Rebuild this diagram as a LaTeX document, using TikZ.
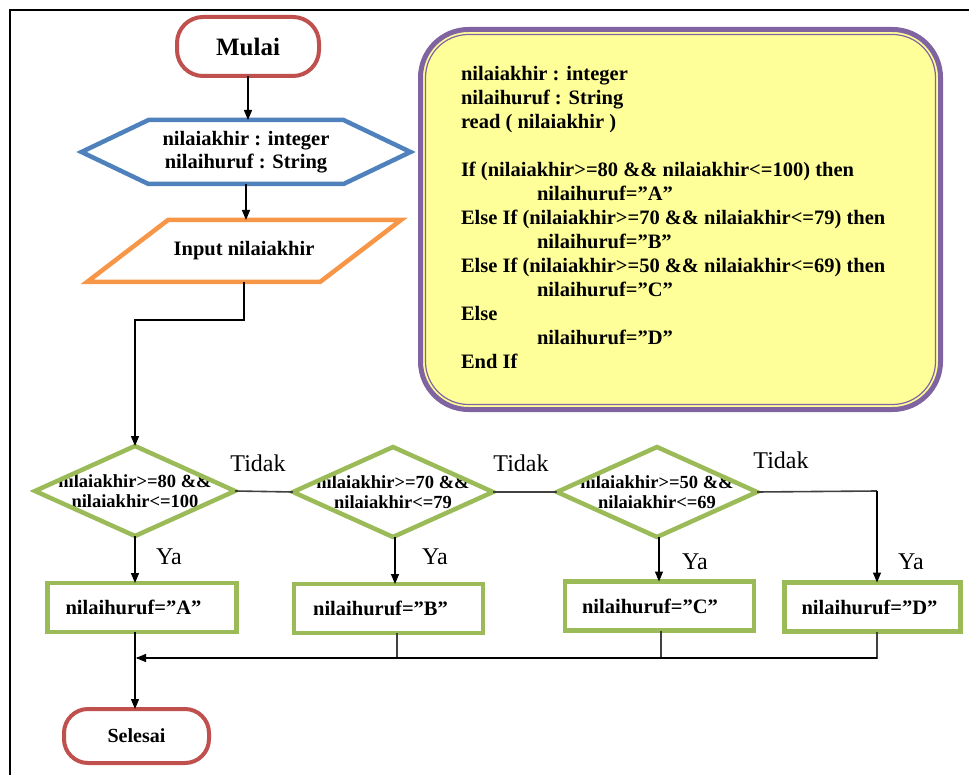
\documentclass[tikz,border=0pt]{standalone}
\usepackage{fontspec}
\setmainfont{Liberation Serif}
\usetikzlibrary{arrows.meta,calc}

\definecolor{termred}{HTML}{C0504D}
\definecolor{declblue}{HTML}{4F81BD}
\definecolor{ioorange}{HTML}{F79646}
\definecolor{decgreen}{HTML}{9BBB59}
\definecolor{notepurple}{HTML}{8064A2}
\definecolor{noteyellow}{HTML}{FFFF99}

\newcommand{\flowfont}{\fontsize{20.5}{23}\selectfont\bfseries}
\newcommand{\condfont}{\fontsize{18.5}{20.5}\selectfont\bfseries}
\newcommand{\branchfont}{\fontsize{24}{26}\selectfont}

\begin{document}
\begin{tikzpicture}[x=1pt,y=-1pt,
  every node/.style={inner sep=0pt, outer sep=0pt},
  terminal/.style={draw=termred, line width=4pt, rounded corners=26pt, fill=white},
  declshape/.style={minimum width=329pt, minimum height=64pt, align=center, font=\flowfont},
  ioshape/.style={minimum width=314pt, minimum height=62pt, font=\flowfont},
  decision/.style={minimum width=200pt, minimum height=90pt, align=center, font=\condfont},
  outline/.style={line width=4.5pt, line join=miter},
  assign/.style={draw=decgreen, line width=4.5pt, minimum width=189pt, minimum height=49pt, font=\flowfont},
  branch/.style={font=\branchfont},
  codeline/.style={anchor=base west, font=\fontsize{20.5}{24}\selectfont\bfseries},
  flow/.style={line width=1.3pt, black, -{Triangle[length=10pt,width=8pt]}},
  link/.style={line width=1.6pt, black!75},
]
\useasboundingbox (0,0) rectangle (969,775);

% page frame (top and left edges only)
\draw[line width=1.5pt] (9,10) -- (969,10);
\draw[line width=1.5pt] (10,9) -- (10,775);

% ---------- pseudocode note ----------
\node[draw=notepurple, line width=5pt, fill=noteyellow, rounded corners=48pt,
      minimum width=520pt, minimum height=380pt] (code) at (680.5,219.5) {};
\draw[notepurple, line width=1.2pt, rounded corners=43pt]
  ($(code.north west)+(5,5)$) rectangle ($(code.south east)+(-5,-5)$);

\node[codeline] (c1)  at (461,81)  {nilaiakhir : integer};
\node[codeline] (c2)  at (461,105) {nilaihuruf : String};
\node[codeline] (c3)  at (461,129) {read ( nilaiakhir )};
\node[codeline] (c4)  at (461,177) {If (nilaiakhir>=80 \&\& nilaiakhir<=100) then};
\node[codeline] (c5)  at (537,201) {nilaihuruf=”A”};
\node[codeline] (c6)  at (461,225) {Else If (nilaiakhir>=70 \&\& nilaiakhir<=79) then};
\node[codeline] (c7)  at (537,249) {nilaihuruf=”B”};
\node[codeline] (c8)  at (461,273) {Else If (nilaiakhir>=50 \&\& nilaiakhir<=69) then};
\node[codeline] (c9)  at (537,297) {nilaihuruf=”C”};
\node[codeline] (c10) at (461,321) {Else};
\node[codeline] (c11) at (537,345) {nilaihuruf=”D”};
\node[codeline] (c12) at (461,369) {End If};

% ---------- start ----------
\node[terminal, minimum width=142pt, minimum height=59pt,
      font=\fontsize{25}{27}\selectfont\bfseries] (mulai) at (248,46.5) {Mulai};

% ---------- declaration (hexagon) ----------
\node[declshape] (decl) at (246,152) {nilaiakhir : integer\\nilaihuruf : String};
\draw[outline, draw=declblue]
  (decl.west) -- ($(decl.north west)+(67,0)$) -- ($(decl.north east)+(-67,0)$)
  -- (decl.east) -- ($(decl.south east)+(-67,0)$) -- ($(decl.south west)+(67,0)$) -- cycle;

% ---------- input (parallelogram) ----------
\node[ioshape] (inp) at (244,251) {Input nilaiakhir};
\draw[outline, draw=ioorange]
  ($(inp.north west)+(81,0)$) -- (inp.north east) -- ($(inp.south east)+(-81,0)$)
  -- (inp.south west) -- cycle;

% ---------- decisions ----------
\node[decision] (d1) at (135,491) {nilaiakhir>=80 \&\&\\nilaiakhir<=100};
\node[decision] (d2) at (393,492) {nilaiakhir>=70 \&\&\\nilaiakhir<=79};
\node[decision] (d3) at (657,492) {nilaiakhir>=50 \&\&\\nilaiakhir<=69};
\foreach \d in {d1,d2,d3}
  \draw[outline, draw=decgreen] (\d.west) -- (\d.north) -- (\d.east) -- (\d.south) -- cycle;

% ---------- assignments ----------
\node[assign] (ba) at (142,607.5) {nilaihuruf=”A”\hspace*{17pt}};
\node[assign] (bb) at (388.5,608.5) {nilaihuruf=”B”\hspace*{16pt}};
\node[assign] (bc) at (659.5,606) {nilaihuruf=”C”\hspace*{19pt}};
\node[assign, minimum width=176pt] (bd) at (872.5,607) {nilaihuruf=”D”\hspace*{6pt}};

% ---------- end ----------
\node[terminal, minimum width=145pt, minimum height=54pt, rounded corners=24pt,
      font=\fontsize{20}{22}\selectfont\bfseries] (selesai) at (136.5,736) {Selesai};

% ---------- connectors ----------
\coordinate (dcol) at (877,491);
\coordinate (merge) at (135,658);

\draw[flow] (mulai.south) -- (mulai.south |- decl.north);
\draw[flow] (decl.south) -- (decl.south |- inp.north);
\draw[flow] (inp.south) -- ++(0,38) -| (d1.north);

\draw[link] (d1.east) -- (d2.west);
\draw[link] (d2.east) -- (d3.west);
\draw[link] (d3.east) -- (dcol);
\draw[flow] (dcol) -- (dcol |- bd.north);

\draw[flow] (d1.south) -- (d1.south |- ba.north);
\draw[flow] ([xshift=2pt]d2.south) -- ([xshift=2pt]d2.south |- bb.north);
\draw[flow] ([xshift=2pt]d3.south) -- ([xshift=2pt]d3.south |- bc.north);

\draw[link] ([xshift=4pt]d2.south |- bb.south) -- ([xshift=4pt]d2.south |- merge);
\draw[link] ([xshift=4pt]d3.south |- bc.south) -- ([xshift=4pt]d3.south |- merge);
\draw[link] (dcol |- bd.south) -- (dcol |- merge) -- ([xshift=2pt]merge);
\draw[flow] (dcol |- merge) -- ([xshift=1pt]merge);
\draw[flow] (d1.south |- ba.south) -- (d1.south |- selesai.north);

% ---------- branch labels ----------
\node[branch] (t1) at (258,463) {Tidak};
\node[branch] (t2) at (521,463) {Tidak};
\node[branch] (t3) at (781,460) {Tidak};
\node[branch] (y1) at (169,557) {Ya};
\node[branch] (y2) at (435,557) {Ya};
\node[branch] (y3) at (695,562) {Ya};
\node[branch] (y4) at (911,562) {Ya};
\end{tikzpicture}
\end{document}
